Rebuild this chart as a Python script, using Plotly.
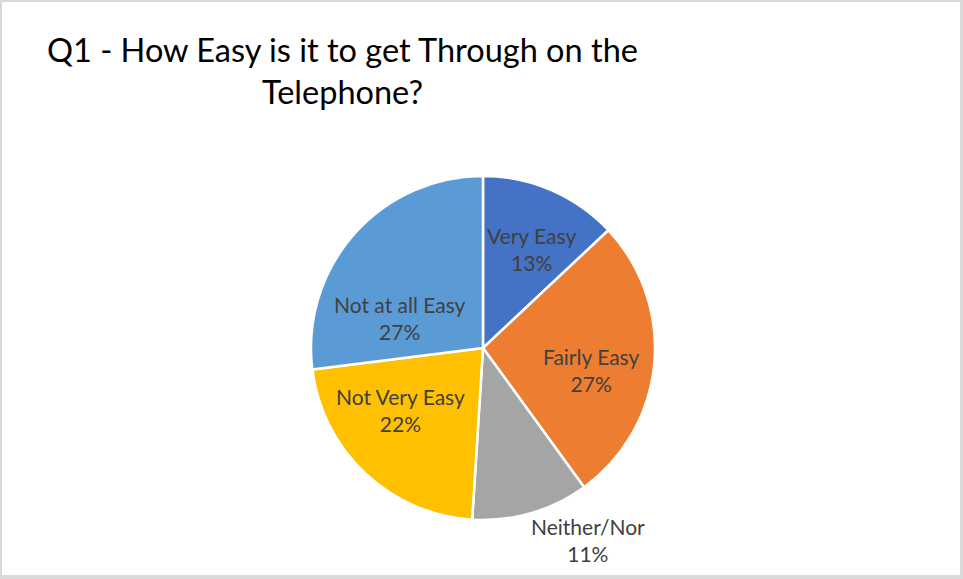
import plotly.graph_objects as go

# Survey answers, read clockwise from 12 o'clock
categories = ["Very Easy", "Fairly Easy", "Neither/Nor", "Not Very Easy", "Not at all Easy"]
percentages = [13, 27, 11, 22, 27]
slice_colors = ["#4472C4", "#ED7D31", "#A5A5A5", "#FFC000", "#5B9BD5"]

W, H = 963, 579

# Pie geometry in pixels
cx, cy, R = 483, 348, 172

# Label centres as pixel offsets from the pie centre
label_offsets = [(48, -99), (108, 22), (105, 192), (-83, 62), (-83, -30)]

fig = go.Figure()
fig.add_trace(go.Pie(
    labels=categories,
    values=percentages,
    sort=False,
    direction="clockwise",
    rotation=0,
    marker=dict(colors=slice_colors, line=dict(color="white", width=2.5)),
    textinfo="none",
    hoverinfo="label+percent",
    showlegend=False,
    domain=dict(x=[(cx - R) / W, (cx + R) / W], y=[1 - (cy + R) / H, 1 - (cy - R) / H]),
))

annotations = []
for name, pct, (dx, dy) in zip(categories, percentages, label_offsets):
    annotations.append(dict(
        x=(cx + dx) / W, y=1 - (cy + dy) / H, xref="paper", yref="paper",
        text=f"{name}<br>{pct}%", showarrow=False,
        font=dict(family="Lato", size=21, color="#404040"),
        align="center", xanchor="center", yanchor="middle",
    ))

annotations.append(dict(
    x=342 / W, y=1 - 70 / H, xref="paper", yref="paper",
    text="Q1 - How Easy is it to get Through on the<br>Telephone?",
    showarrow=False, align="center", xanchor="center", yanchor="middle",
    font=dict(family="Lato", size=32.5, color="#000000"),
))

fig.update_layout(
    width=W, height=H,
    margin=dict(l=0, r=0, t=0, b=0),
    paper_bgcolor="#D9D9D9",
    plot_bgcolor="white",
    annotations=annotations,
    shapes=[dict(type="rect", xref="paper", yref="paper",
                 x0=2 / W, x1=960 / W, y0=1 - 575 / H, y1=1 - 2 / H,
                 fillcolor="white", line=dict(width=0), layer="below")],
)

fig.write_html("out.html")
